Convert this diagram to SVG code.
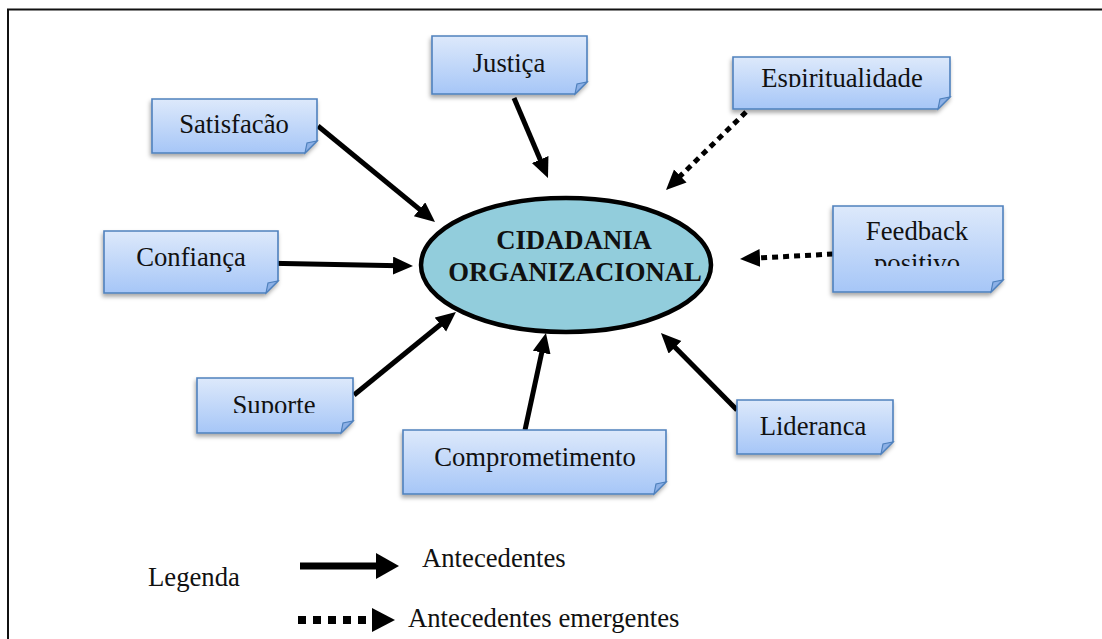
<svg xmlns="http://www.w3.org/2000/svg" width="1102" height="639" viewBox="0 0 1102 639">
<style>
.lbl{font-family:'Liberation Serif',serif;font-size:26.7px;fill:#111;text-anchor:middle}
.leg{font-family:'Liberation Serif',serif;font-size:26.7px;fill:#111}
.core{font-family:'Liberation Serif',serif;font-size:26.7px;font-weight:bold;fill:#111;text-anchor:middle}
.box{fill:url(#bg);stroke:#4f81bd;stroke-width:1.6;filter:url(#sh)}
.fold{fill:#8cb0e6;stroke:#4f81bd;stroke-width:1.2}
.sol{stroke:#000;stroke-width:5;fill:none;marker-end:url(#ah)}
.dot{stroke:#000;stroke-width:5;fill:none;stroke-dasharray:6 5;marker-end:url(#ah)}
</style>
<defs>
<linearGradient id="bg" x1="0" y1="0" x2="0" y2="1">
<stop offset="0" stop-color="#dde9fb"/>
<stop offset="1" stop-color="#a6c6f7"/>
</linearGradient>
<filter id="sh" x="-10%" y="-10%" width="120%" height="140%">
<feDropShadow dx="-1" dy="3" stdDeviation="2" flood-color="#000" flood-opacity="0.35"/>
</filter>
<marker id="ah" markerUnits="userSpaceOnUse" markerWidth="22" markerHeight="20" refX="6" refY="9" orient="auto">
<path d="M0,0 L20,9 L0,18 z" fill="#000"/>
</marker>
<clipPath id="cEsp"><rect x="733" y="57" width="217" height="30"/></clipPath>
<clipPath id="cFeed"><rect x="833" y="206" width="170" height="60"/></clipPath>
<clipPath id="cSup"><rect x="197" y="378" width="156" height="35"/></clipPath>
<clipPath id="cLid"><rect x="737" y="400" width="156" height="35"/></clipPath>
</defs>
<rect width="1102" height="639" fill="#fff"/>
<g id="frame" stroke="#111" stroke-width="2" fill="none">
<path d="M8,639 V9.5 H1102"/>
</g>
<g id="connectors">
<line class="sol" x1="318" y1="126" x2="424.2" y2="213.1"/>
<line class="sol" x1="514" y1="98" x2="542.5" y2="165.1"/>
<line class="sol" x1="258" y1="263" x2="399" y2="265.7"/>
<line class="sol" x1="354" y1="395" x2="445.1" y2="320.8"/>
<line class="sol" x1="525" y1="430" x2="543" y2="346.7"/>
<line class="sol" x1="737" y1="410" x2="670.8" y2="343"/>
<line class="dot" x1="746" y1="112" x2="676" y2="180.2"/>
<line class="dot" x1="833" y1="254" x2="754" y2="258.2"/>
</g>
<g id="center">
<ellipse cx="566" cy="265" rx="145" ry="67" fill="#92cddc" stroke="#000" stroke-width="4.5"/>
<text class="core" x="574" y="249">CIDADANIA</text>
<text class="core" x="575" y="281">ORGANIZACIONAL</text>
</g>
<g id="justica">
<path class="box" d="M432,36 h155 v46 l-12,12 h-143 z"/>
<path class="fold" d="M587,82 l-12,12 l2,-10 z"/>
<text class="lbl" x="509" y="72">Justiça</text>
</g>
<g id="satisfacao">
<path class="box" d="M152,99 h165 v42 l-12,12 h-153 z"/>
<path class="fold" d="M317,141 l-12,12 l2,-10 z"/>
<text class="lbl" x="234" y="133">Satisfacão</text>
</g>
<g id="espiritualidade">
<path class="box" d="M733,57 h217 v40 l-12,12 h-205 z"/>
<path class="fold" d="M950,97 l-12,12 l2,-10 z"/>
<text class="lbl" x="842" y="87" clip-path="url(#cEsp)">Espiritualidade</text>
</g>
<g id="feedback">
<path class="box" d="M833,206 h170 v74 l-12,12 h-158 z"/>
<path class="fold" d="M1003,280 l-12,12 l2,-10 z"/>
<g clip-path="url(#cFeed)">
<text class="lbl" x="917" y="240">Feedback</text>
<text class="lbl" x="917" y="272">positivo</text>
</g>
</g>
<g id="confianca">
<path class="box" d="M104,231 h174 v50 l-12,12 h-162 z"/>
<path class="fold" d="M278,281 l-12,12 l2,-10 z"/>
<text class="lbl" x="191" y="266">Confiança</text>
</g>
<g id="suporte">
<path class="box" d="M197,378 h156 v43 l-12,12 h-144 z"/>
<path class="fold" d="M353,421 l-12,12 l2,-10 z"/>
<text class="lbl" x="274" y="414" clip-path="url(#cSup)">Suporte</text>
</g>
<g id="comprometimento">
<path class="box" d="M403,430 h263 v52 l-12,12 h-251 z"/>
<path class="fold" d="M666,482 l-12,12 l2,-10 z"/>
<text class="lbl" x="535" y="466">Comprometimento</text>
</g>
<g id="lideranca">
<path class="box" d="M737,400 h156 v42 l-12,12 h-144 z"/>
<path class="fold" d="M893,442 l-12,12 l2,-10 z"/>
<text class="lbl" x="813" y="435" clip-path="url(#cLid)">Liderança</text>
</g>
<g id="legend">
<text class="leg" x="148" y="586">Legenda</text>
<line x1="300" y1="566" x2="378" y2="566" stroke="#000" stroke-width="7"/>
<path d="M376,553 L399,566 L376,579 z" fill="#000"/>
<text class="leg" x="422" y="567">Antecedentes</text>
<line x1="298" y1="620" x2="374" y2="620" stroke="#000" stroke-width="8" stroke-dasharray="8 7"/>
<path d="M372,608 L395,620 L372,632 z" fill="#000"/>
<text class="leg" x="408" y="627">Antecedentes emergentes</text>
</g>
</svg>
